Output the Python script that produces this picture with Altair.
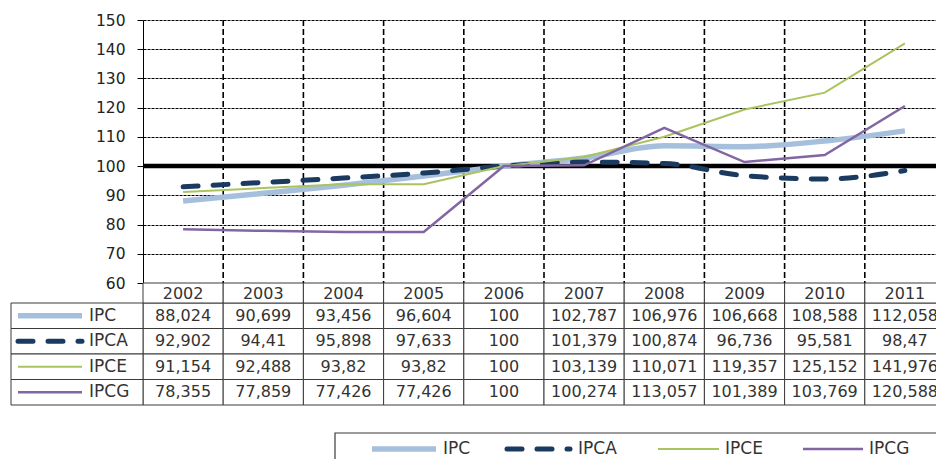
import altair as alt
import pandas as pd

# Price index series (base 2006 = 100)
anos = ["2002", "2003", "2004", "2005", "2006", "2007", "2008", "2009", "2010", "2011"]
series = ["IPC", "IPCA", "IPCE", "IPCG"]
ipc = [88.024, 90.699, 93.456, 96.604, 100, 102.787, 106.976, 106.668, 108.588, 112.058]
ipca = [92.902, 94.41, 95.898, 97.633, 100, 101.379, 100.874, 96.736, 95.581, 98.47]
ipce = [91.154, 92.488, 93.82, 93.82, 100, 103.139, 110.071, 119.357, 125.152, 141.976]
ipcg = [78.355, 77.859, 77.426, 77.426, 100, 100.274, 113.057, 101.389, 103.769, 120.588]
y_ticks = [60, 70, 80, 90, 100, 110, 120, 130, 140, 150]

valores = {"IPC": ipc, "IPCA": ipca, "IPCE": ipce, "IPCG": ipcg}


def rotulo(v):
    # Brazilian decimal comma, no padding zeros
    return f"{v:g}".replace(".", ",")


linhas = []
for s in series:
    for a, v in zip(anos, valores[s]):
        linhas.append({"ano": a, "serie": s, "valor": v, "rotulo": rotulo(v)})
df = pd.DataFrame(linhas)
df_anos = pd.DataFrame({"ano": anos})
df_series = pd.DataFrame({"serie": series})

FONT = "DejaVu Sans"
W, H = 793, 263

estilo = {
    "IPC": dict(color="#a6bfdc", strokeWidth=5.5),
    "IPCA": dict(color="#1b3a60", strokeWidth=5, strokeDash=[15, 15], strokeCap="round"),
    "IPCE": dict(color="#aac35f", strokeWidth=2),
    "IPCG": dict(color="#8266a2", strokeWidth=2.5),
}
# IPC and IPCA are drawn as smoothed curves, the others as straight segments
suave = {"IPC": "monotone", "IPCA": "monotone", "IPCE": "linear", "IPCG": "linear"}

x_scale = alt.Scale(type="band", domain=anos, range=[0, 802], paddingInner=0, paddingOuter=0)
y_scale = alt.Scale(domain=[60, 150], nice=False, zero=False)
y_axis = alt.Axis(
    values=y_ticks, tickCount=len(y_ticks), grid=True, gridColor="black", gridDash=[3, 1],
    gridWidth=1, tickSize=6, tickColor="black", domainColor="black", domainWidth=1,
    labelOverlap=False, labelFont=FONT, labelFontSize=15.5, labelColor="#222",
    labelPadding=12, title=None,
)
row_scale = alt.Scale(type="band", domain=series, range=[283, 385], paddingInner=0, paddingOuter=0)

# ---- plot area -------------------------------------------------------------
grade_v = alt.Chart(pd.DataFrame({"ano": anos[1:]})).mark_rule(
    color="black", strokeWidth=1.6, strokeDash=[6, 3]
).encode(
    x=alt.X("ano:O", scale=x_scale, axis=None, bandPosition=0),
    y=alt.value(0),
    y2=alt.value(H),
)

base100 = alt.Chart(pd.DataFrame({"ref": [100]})).mark_rule(color="black", strokeWidth=4.5).encode(
    x=alt.value(0), x2=alt.value(W),
    y=alt.Y("ref:Q", scale=y_scale, axis=y_axis),
)

camadas_linhas = []
for s in series:
    camadas_linhas.append(
        alt.Chart(df[df.serie == s]).mark_line(interpolate=suave[s], **estilo[s]).encode(
            x=alt.X("ano:O", scale=x_scale, axis=None, bandPosition=0.5),
            y=alt.Y("valor:Q", scale=y_scale, axis=y_axis),
        )
    )

grafico = alt.layer(base100, grade_v, *camadas_linhas)

# ---- data table below the plot ---------------------------------------------
celulas = alt.Chart(df).mark_rect(fill="white", stroke="#3a3a3a", strokeWidth=1).encode(
    x=alt.X("ano:O", scale=x_scale, axis=None),
    y=alt.Y("serie:N", scale=row_scale, axis=None),
)
textos = alt.Chart(df).mark_text(font=FONT, fontSize=16, color="#333").encode(
    x=alt.X("ano:O", scale=x_scale, axis=None, bandPosition=0.5),
    y=alt.Y("serie:N", scale=row_scale, axis=None, bandPosition=0.5),
    text="rotulo:N",
)
col_rotulo = alt.Chart(df_series).mark_rect(fill="white", stroke="#3a3a3a", strokeWidth=1).encode(
    x=alt.value(-132), x2=alt.value(0),
    y=alt.Y("serie:N", scale=row_scale, axis=None),
)
nomes = alt.Chart(df_series).mark_text(font=FONT, fontSize=17, color="#333", align="left").encode(
    x=alt.value(-54),
    y=alt.Y("serie:N", scale=row_scale, axis=None, bandPosition=0.5),
    text="serie:N",
)
chaves = []
for s in series:
    chaves.append(
        alt.Chart(df_series[df_series.serie == s]).mark_rule(**estilo[s]).encode(
            x=alt.value(-125), x2=alt.value(-61),
            y=alt.Y("serie:N", scale=row_scale, axis=None, bandPosition=0.5),
        )
    )
tabela = alt.layer(celulas, textos, col_rotulo, nomes, *chaves)

cabecalho = alt.layer(
    alt.Chart(df_anos).mark_rect(fill="white", stroke="#3a3a3a", strokeWidth=1).encode(
        x=alt.X("ano:O", scale=x_scale, axis=None),
        y=alt.value(263), y2=alt.value(283),
    ),
    alt.Chart(df_anos).mark_text(font=FONT, fontSize=16, color="#333").encode(
        x=alt.X("ano:O", scale=x_scale, axis=None, bandPosition=0.5),
        y=alt.value(273.5),
        text="ano:N",
    ),
)

# ---- legend box at the bottom ----------------------------------------------
um = pd.DataFrame({"k": [0]})
legenda = [
    alt.Chart(um).mark_rect(fill="white", stroke="#3a3a3a", strokeWidth=1.2).encode(
        x=alt.value(192), x2=alt.value(820), y=alt.value(413), y2=alt.value(460)
    )
]
pos_legenda = {"IPC": (229, 293, 300), "IPCA": (364, 427, 435), "IPCE": (515, 576, 582), "IPCG": (660, 720, 726)}
for s in series:
    x0, x1, xt = pos_legenda[s]
    legenda.append(
        alt.Chart(um).mark_rule(**estilo[s]).encode(
            x=alt.value(x0), x2=alt.value(x1), y=alt.value(429)
        )
    )
    legenda.append(
        alt.Chart(um).mark_text(font=FONT, fontSize=17, color="#333", align="left").encode(
            x=alt.value(xt), y=alt.value(429), text=alt.value(s)
        )
    )

chart = (
    alt.layer(grafico, tabela, cabecalho, *legenda)
    .resolve_scale(y="independent")
    .properties(
        width=W,
        height=H,
        autosize=alt.AutoSizeParams(type="none"),
        padding={"left": 143, "top": 20, "right": 0, "bottom": 176},
        background="white",
    )
    .configure_view(stroke=None)
)

chart.save("out.html", embed_options={"renderer": "svg", "actions": False})
